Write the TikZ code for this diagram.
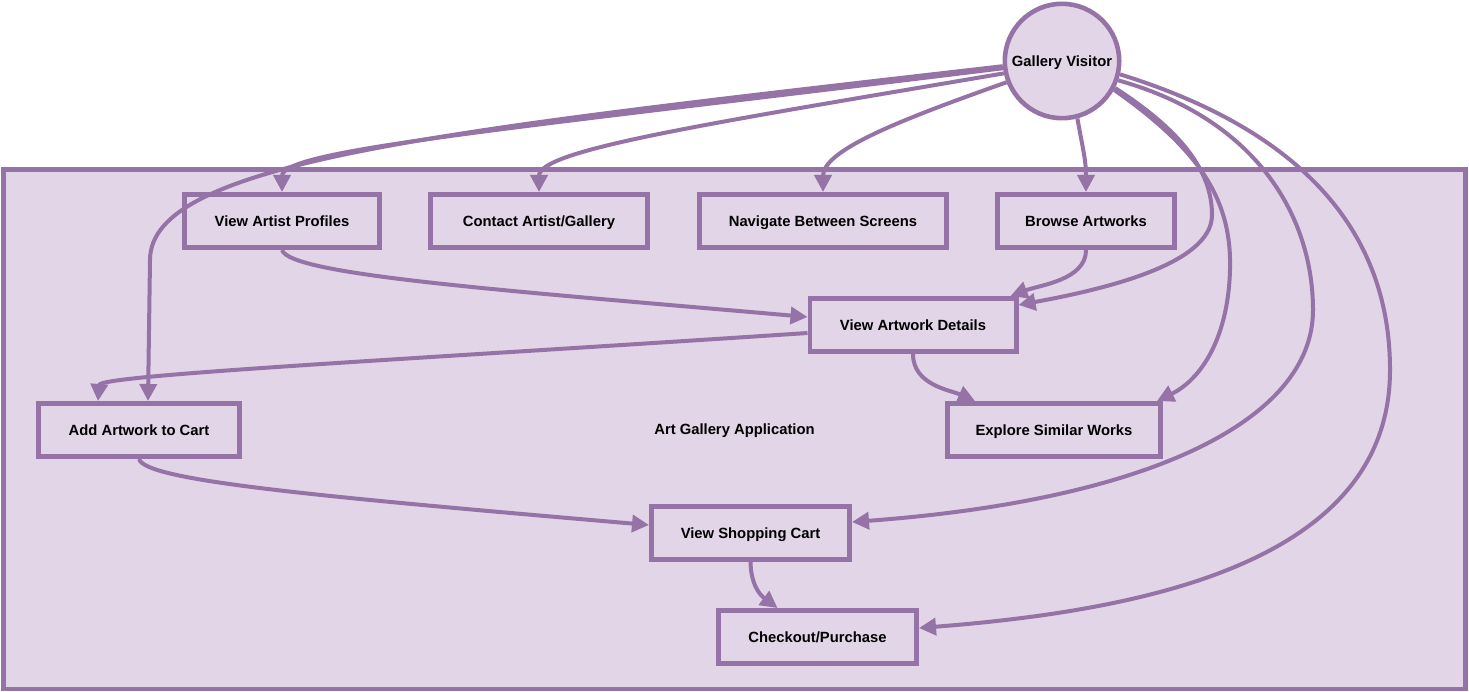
\documentclass[tikz,border=0pt]{standalone}
\usepackage{fontspec}
\setmainfont{Liberation Sans}
\usetikzlibrary{arrows.meta,positioning}

\definecolor{lilacline}{HTML}{9673A6}
\definecolor{lilacfill}{HTML}{E1D5E7}

\begin{document}
\begin{tikzpicture}[x=1pt,y=-1pt,
  label font/.style={font=\bfseries\fontsize{14.8}{17}\selectfont,
    text height=10.7pt, text depth=0pt},
  box/.style={draw=lilacline, fill=lilacfill, line width=4.6pt, label font,
    minimum height=53.4pt, inner sep=0pt},
  flow/.style={draw=lilacline, line width=4pt,
    -{Triangle[length=17pt,width=17pt]}}]
  \useasboundingbox (0,0) rectangle (1469,692);

  % Application boundary
  \node[box, minimum width=1462.4pt, minimum height=519.4pt] (app) at (734.5,429.25) {Art Gallery Application};

  \node[box, circle, minimum size=114.4pt] (visitor) at (1062,61) {Gallery Visitor};

  \node[box, minimum width=195.4pt] (profiles) at (282,221) {View Artist Profiles};
  \node[box, minimum width=217.4pt] (contact) at (539,221) {Contact Artist/Gallery};
  \node[box, minimum width=247.4pt] (navigate) at (823,221) {Navigate Between Screens};
  \node[box, minimum width=177.4pt] (browse) at (1086,221) {Browse Artworks};
  \node[box, minimum width=206.4pt] (details) at (913,325) {View Artwork Details};
  \node[box, minimum width=201.4pt] (addcart) at (139,430) {Add Artwork to Cart};
  \node[box, minimum width=213.4pt] (explore) at (1054,430) {Explore Similar Works};
  \node[box, minimum width=198.4pt] (cart) at (750.5,533) {View Shopping Cart};
  \node[box, minimum width=198.4pt] (checkout) at (817.5,637) {Checkout/Purchase};

  % Visitor to use cases
  \draw[flow] (visitor.187) .. controls (500,130) and (282,150) .. (profiles.north);
  \draw[flow] (visitor.185) .. controls (450,130) and (150,160) .. (150,260)
    -- ([xshift=9]addcart.north);
  \draw[flow] (visitor.192) .. controls (700,125) and (539,150) .. (contact.north);
  \draw[flow] (visitor.201) .. controls (900,120) and (823,150) .. (navigate.north);
  \draw[flow] (visitor.285) .. controls (1083,150) and (1086,160) .. (browse.north);
  \draw[flow] (visitor.333) .. controls (1180,130) and (1212,170) .. (1212,215)
    .. controls (1212,265) and (1100,290) .. ([yshift=20]details.east);
  \draw[flow] (visitor.331) .. controls (1200,150) and (1232,200) .. (1230,270)
    .. controls (1228,340) and (1200,380) .. ([xshift=-6]explore.north east);
  \draw[flow] (visitor.341) .. controls (1260,120) and (1313,220) .. (1313,310)
    .. controls (1313,420) and (1150,500) .. ([yshift=11]cart.east);
  \draw[flow] (visitor.347) .. controls (1300,130) and (1390,230) .. (1390,370)
    .. controls (1390,560) and (1150,610) .. ([yshift=9]checkout.east);

  % Between use cases
  \draw[flow] (profiles.south) .. controls (290,275) and (500,290) .. ([yshift=8]details.west);
  \draw[flow] (browse.south) .. controls (1086,280) and (1040,285) .. ([xshift=-8]details.north east);
  \draw[flow] ([yshift=-8]details.west) .. controls (400,360) and (100,375) .. ([xshift=-41]addcart.north);
  \draw[flow] (details.south) .. controls (913,385) and (950,390) .. ([xshift=-79]explore.north);
  \draw[flow] (addcart.south) .. controls (145,480) and (300,495) .. ([yshift=8]cart.west);
  \draw[flow] (cart.south) .. controls (751,585) and (760,595) .. ([xshift=-40]checkout.north);
\end{tikzpicture}
\end{document}
